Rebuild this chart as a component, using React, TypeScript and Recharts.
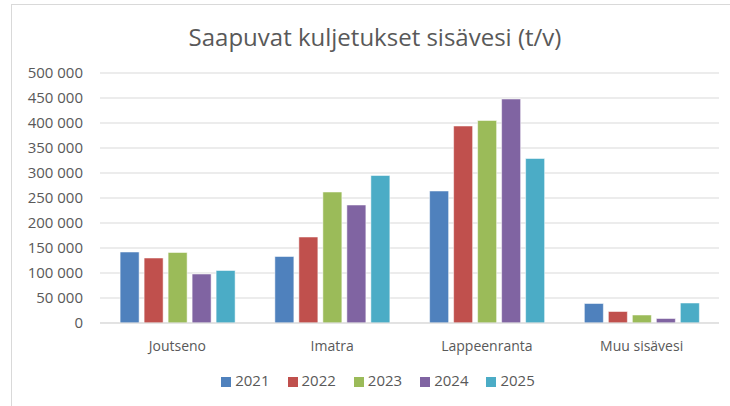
import React from "react";
import { BarChart, Bar, XAxis, YAxis, CartesianGrid, Legend } from "recharts";

const categories = ["Joutseno", "Imatra", "Lappeenranta", "Muu sisävesi"];
const v2021 = [142000, 133000, 264000, 39000];
const v2022 = [130000, 172000, 394000, 23000];
const v2023 = [141000, 262000, 405000, 16000];
const v2024 = [98000, 236000, 448000, 9000];
const v2025 = [105000, 295000, 329000, 40000];
const yTicks = [0, 50000, 100000, 150000, 200000, 250000, 300000, 350000, 400000, 450000, 500000];

const series = [
  { key: "2021", color: "#4F81BD" },
  { key: "2022", color: "#C0504D" },
  { key: "2023", color: "#9BBB59" },
  { key: "2024", color: "#8064A2" },
  { key: "2025", color: "#4BACC6" },
];

const data = categories.map((name, i) => ({
  name,
  "2021": v2021[i],
  "2022": v2022[i],
  "2023": v2023[i],
  "2024": v2024[i],
  "2025": v2025[i],
}));

const fmt = (v: number) => v.toLocaleString("fi-FI").replace(/\s/g, " ");
const font = "'Open Sans', sans-serif";

export default function App() {
  return (
    <div style={{ position: "absolute", left: 0, top: 0, width: 730, height: 406, background: "#fff", fontFamily: font, overflow: "hidden" }}>
      <div style={{ position: "absolute", left: 11, top: 4, width: 730, height: 420, border: "1px solid #d9d9d9" }} />
      <div style={{ position: "absolute", left: 0, top: 20, width: 750, textAlign: "center", fontSize: 24, color: "#595959" }}>
        Saapuvat kuljetukset sisävesi (t/v)
      </div>
      <BarChart
        width={730}
        height={406}
        data={data}
        margin={{ top: 73, right: 11, left: 0, bottom: 43 }}
        barCategoryGap="13%"
        barGap={5}
        style={{ position: "absolute", left: 0, top: 0 }}
      >
        <CartesianGrid vertical={false} stroke="#d9d9d9" />
        <XAxis
          dataKey="name"
          height={40}
          tickLine={false}
          axisLine={{ stroke: "#d9d9d9" }}
          tick={{ fill: "#595959", fontSize: 14, fontFamily: font }}
          tickMargin={12}
        />
        <YAxis
          width={100}
          domain={[0, 500000]}
          ticks={yTicks}
          tickFormatter={fmt}
          axisLine={false}
          tickLine={false}
          tickSize={0}
          tickMargin={17}
          tick={{ fill: "#595959", fontSize: 15, fontFamily: font }}
        />
        <Legend
          verticalAlign="middle"
          align="center"
          iconType="square"
          iconSize={10}
          wrapperStyle={{ top: 370, left: 22, width: 730, fontSize: 15, fontFamily: font }}
          formatter={(value) => <span style={{ color: "#595959", marginRight: 8 }}>{value}</span>}
        />
        {series.map((s) => (
          <Bar key={s.key} dataKey={s.key} fill={s.color} stroke="#ffffff" strokeOpacity={0.5} isAnimationActive={false} />
        ))}
      </BarChart>
    </div>
  );
}
